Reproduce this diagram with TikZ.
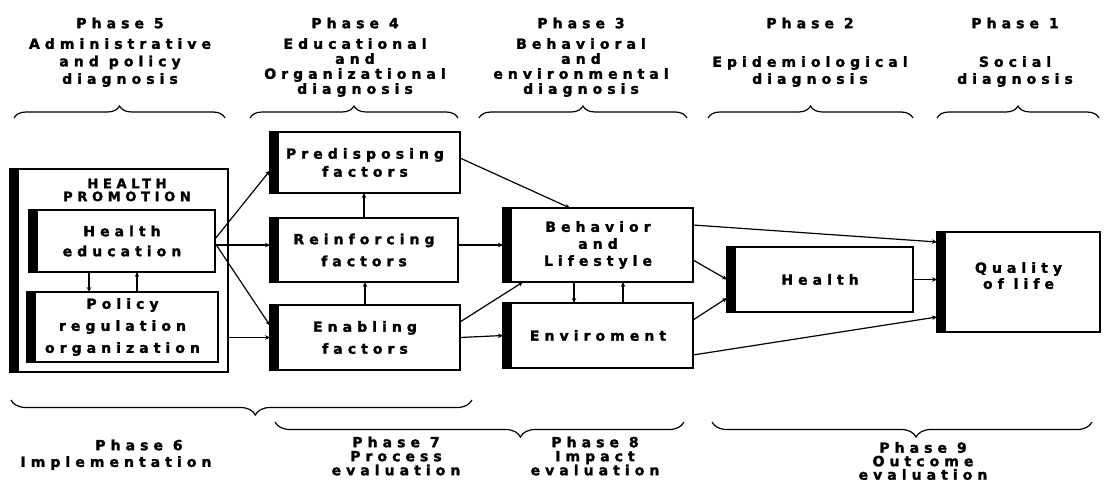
\documentclass[tikz,border=0pt]{standalone}
\usepackage{fontspec}
\setmainfont{DejaVu Sans}[LetterSpace=36, BoldFeatures={FakeBold=1.8}]
\usetikzlibrary{arrows.meta,decorations.pathreplacing,calc}
\tikzset{
  txt/.style={font=\bfseries\fontsize{14}{15}\selectfont, align=center, inner sep=0pt},
  box/.style={draw, line width=1.4pt, inner sep=0pt, outer sep=0pt,
    font=\bfseries\fontsize{14}{20}\selectfont, align=center,
    path picture={\fill (path picture bounding box.north west) rectangle ([xshift=9pt]path picture bounding box.south west);}},
  conn/.style={line width=1.2pt, -{Stealth[length=5pt,width=4.5pt]}},
  topbrace/.style={line width=1.2pt, decorate, decoration={brace, amplitude=12pt}},
  botbrace/.style={line width=1.2pt, decorate, decoration={brace, mirror, amplitude=15pt, aspect=#1}},
}
\begin{document}
\begin{tikzpicture}[x=1pt,y=-1pt]
\useasboundingbox (0,0) rectangle (1105,492);

% top phase labels
\node[txt] (p5) at (120,23) {Phase 5};
\node[txt, font=\bfseries\fontsize{14}{17.5}\selectfont] (p5d) at (120,62.5) {Administrative\\and policy\\diagnosis};
\node[txt] (p4) at (355,23) {Phase 4};
\node[txt] (p4d) at (355,67.5) {Educational\\and\\Organizational\\diagnosis};
\node[txt] (p3) at (581,23) {Phase 3};
\node[txt] (p3d) at (581,67.5) {Behavioral\\and\\environmental\\diagnosis};
\node[txt] (p2) at (810,23) {Phase 2};
\node[txt, font=\bfseries\fontsize{14}{17}\selectfont] (p2d) at (810,71.5) {Epidemiological\\diagnosis};
\node[txt] (p1) at (1015,23) {Phase 1};
\node[txt, font=\bfseries\fontsize{14}{17}\selectfont] (p1d) at (1015,71.5) {Social\\diagnosis};

\draw[topbrace] (14,118) -- (225,118);
\draw[topbrace] (250,118) -- (458,118);
\draw[topbrace] (479,118) -- (687,118);
\draw[topbrace] (708,118) -- (913,118);
\draw[topbrace] (937,118) -- (1099,118);

% boxes
\node[box, minimum width=218pt, minimum height=203pt] (hp) at (119,270.5) {};
\node[txt, font=\bfseries\fontsize{13}{15}\selectfont] (hpt) at (127,190) {HEALTH\\[-2pt]PROMOTION};
\node[box, minimum width=186pt, minimum height=62pt] (he) at (122,241) {Health\\education};
\node[box, minimum width=191pt, minimum height=70pt, font=\bfseries\fontsize{14}{22}\selectfont] (po) at (122.5,327) {Policy\\regulation\\organization};
\node[box, minimum width=190pt, minimum height=61pt, font=\bfseries\fontsize{14}{18}\selectfont] (pre) at (365,162.5) {Predisposing\\factors};
\node[box, minimum width=188pt, minimum height=64pt, font=\bfseries\fontsize{14}{22}\selectfont] (re) at (364,250) {Reinforcing\\factors};
\node[box, minimum width=190pt, minimum height=65pt, font=\bfseries\fontsize{14}{22}\selectfont] (en) at (365,337.5) {Enabling\\factors};
\node[box, minimum width=190pt, minimum height=74pt, font=\bfseries\fontsize{14}{17}\selectfont] (be) at (598,245) {Behavior\\and\\Lifestyle};
\node[box, minimum width=190pt, minimum height=65pt] (env) at (598,335.5) {Enviroment};
\node[box, minimum width=186pt, minimum height=65pt] (hl) at (820,279.5) {Health};
\node[box, minimum width=163pt, minimum height=100pt, font=\bfseries\fontsize{14}{16}\selectfont] (ql) at (1018.5,282) {Quality\\of life\\[-3pt]};

% connectors
\draw[conn] ([xshift=-33pt]he.south) -- ([xshift=-33pt]he.south |- po.north);
\draw[conn] ([xshift=15pt]he.south |- po.north) -- ([xshift=15pt]he.south);
\draw[conn] ([yshift=2pt]he.east) -- ([yshift=-8pt]pre.west);
\draw[conn] ([yshift=-4pt]he.east) -- ([yshift=-4pt]he.east -| re.west);
\draw[conn] ([yshift=-2pt]he.east) -- ([yshift=12pt]en.west);
\draw[conn] (hp.east |- en.west) -- (en.west);
\draw[conn] (re.north) -- (re.north |- pre.south);
\draw[conn] (en.north) -- (en.north |- re.south);
\draw[conn] ([yshift=4.5pt]pre.east) -- ([xshift=-28pt]be.north);
\draw[conn] ([yshift=5pt]re.east) -- (be.west);
\draw[conn] ([yshift=15.5pt]en.east) -- ([xshift=-75pt]be.south);
\draw[conn] (en.east) -- (env.west);
\draw[conn] ([xshift=-24pt]be.south) -- ([xshift=-24pt]env.north);
\draw[conn] ([xshift=25pt]env.north) -- ([xshift=25pt]be.south);
\draw[conn] ([yshift=-15pt]be.east) -- (hl.west);
\draw[conn] ([yshift=15.5pt]env.east) -- ([yshift=-18.5pt]hl.west);
\draw[conn] ([yshift=20pt]be.east) -- ([yshift=40pt]ql.west);
\draw[conn] (hl.east) -- (hl.east -| ql.west);
\draw[conn] ([yshift=-19.5pt]env.east) -- ([yshift=-35pt]ql.west);

% bottom braces
\draw[botbrace=0.53] (11,400) -- (472,400);
\draw[botbrace=0.6] (275,422) -- (684,422);
\draw[botbrace=0.537] (712,422) -- (1092,422);

% bottom labels
\node[txt] (p6) at (139,445) {Phase 6};
\node[txt] (p6d) at (116,463) {Implementation};
\node[txt, font=\bfseries\fontsize{14}{14}\selectfont] (p7) at (396,456) {Phase 7\\Process\\evaluation};
\node[txt, font=\bfseries\fontsize{14}{14}\selectfont] (p8) at (595,456) {Phase 8\\Impact\\evaluation};
\node[txt, font=\bfseries\fontsize{14}{13.5}\selectfont] (p9) at (923,461) {Phase 9\\Outcome\\evaluation};
\end{tikzpicture}
\end{document}
